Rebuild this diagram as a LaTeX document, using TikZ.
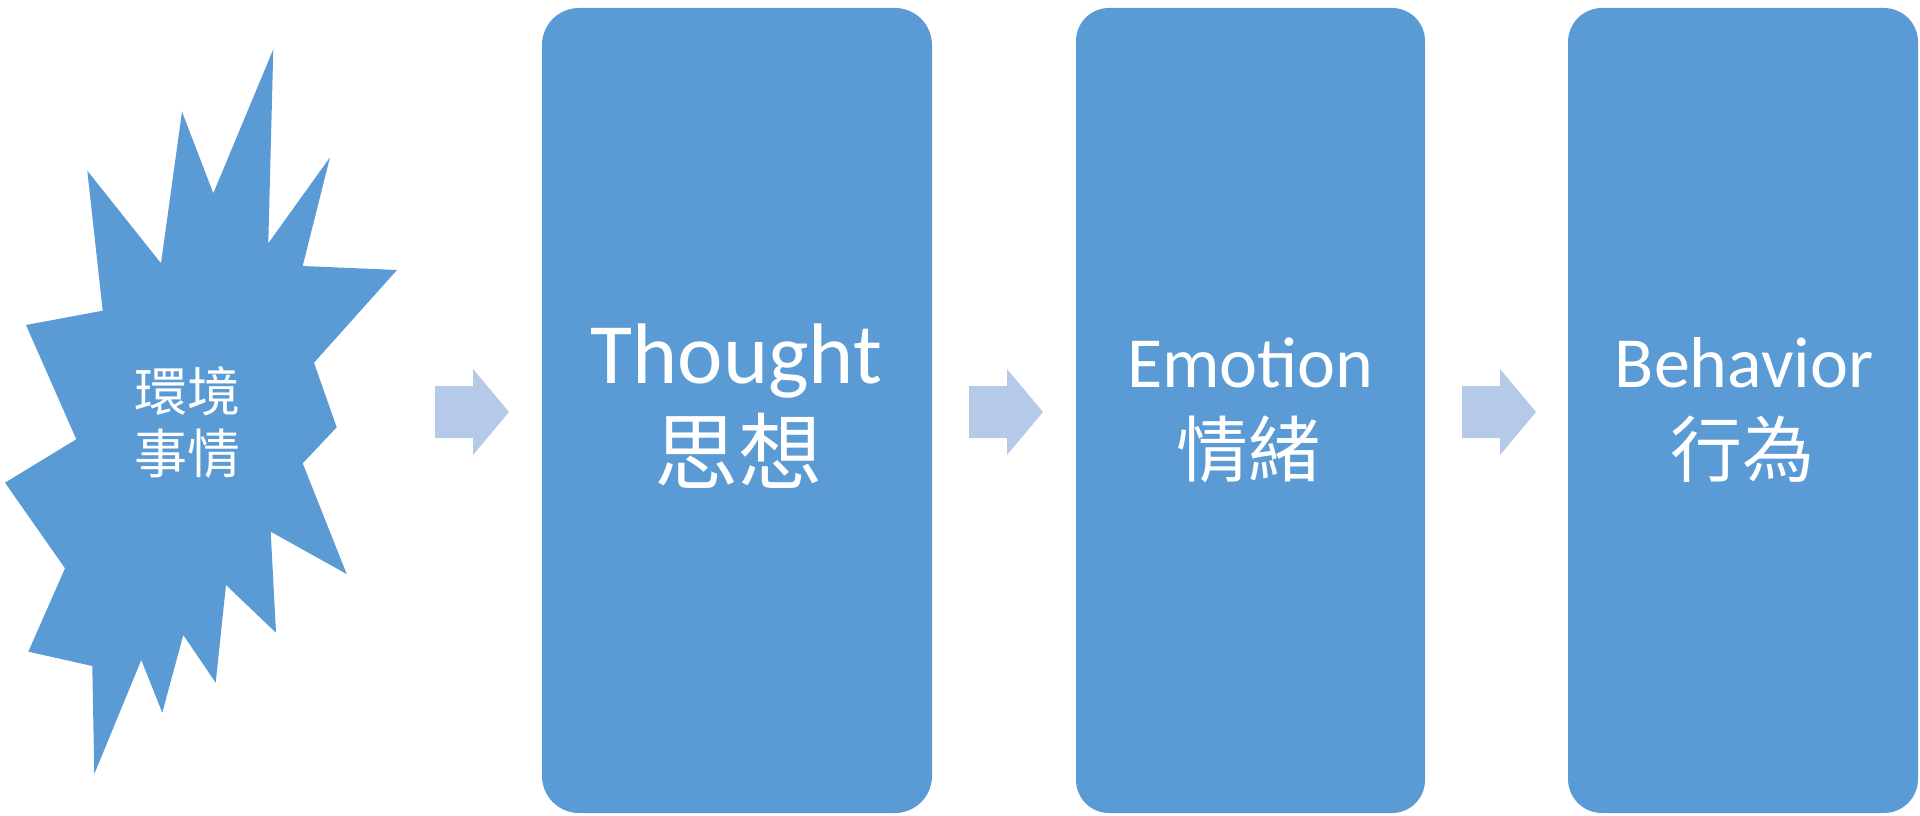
\documentclass[tikz,border=0pt]{standalone}
\usepackage{fontspec}
\setmainfont{Carlito}
\newfontfamily\cjk{Noto Sans CJK TC}
\definecolor{boxblue}{HTML}{5B9BD5}
\definecolor{arrowblue}{HTML}{B5C9E8}
\begin{document}
\begin{tikzpicture}[x=1pt,y=-1pt,
  stepbox/.style={fill=boxblue, draw=none, inner sep=0pt, minimum height=805pt},
  arrowshape/.style={fill=arrowblue, draw=none},
  latin/.style={text=white, inner sep=0pt, anchor=base},
  hanzi/.style={text=white, inner sep=0pt, anchor=center}]
\useasboundingbox (0,0) rectangle (1920,816);

% burst shape
\fill[boxblue] (273.3,49.3) -- (268.3,243.3) -- (330,157.3) -- (302.7,266)
  -- (397,270) -- (314,362.7) -- (336.7,427.3) -- (302.7,463.3)
  -- (346.7,574) -- (270.7,531.7) -- (276,632.7) -- (226,585)
  -- (215.7,682.7) -- (183.3,635) -- (162.3,712.7) -- (141.3,660)
  -- (94.3,774) -- (92.3,666) -- (28.3,651.7) -- (65,568.3)
  -- (5,482.7) -- (76.3,439.3) -- (26,325) -- (102.7,310.7)
  -- (87.3,170.7) -- (161,263.3) -- (182,111.7) -- (213.3,193.3) -- cycle;
\node[hanzi, align=center, font=\cjk\fontsize{53}{62}\selectfont] (event) at (187,422) {環境\\事情};

% boxes
\node[stepbox, minimum width=390pt, rounded corners=37pt] (b1) at (737,410.5) {};
\node[stepbox, minimum width=349pt, rounded corners=33pt] (b2) at (1250.5,410.5) {};
\node[stepbox, minimum width=350pt, rounded corners=34pt] (b3) at (1743,410.5) {};

% arrows
\foreach \sx/\nm in {435/a1, 969/a2, 1462/a3}{
  \fill[arrowshape] (\sx,386) -- (\sx+38,386) -- (\sx+38,369) -- (\sx+74,412)
    -- (\sx+38,455) -- (\sx+38,438) -- (\sx,438) -- cycle;
}

% texts
\node[latin, font=\fontsize{86}{86}\selectfont] (t1) at (736.5,383) {Thought};
\node[hanzi, font=\cjk\fontsize{84}{84}\selectfont] (c1) at (738,451) {思想};
\node[latin, font=\fontsize{72}{72}\selectfont] (t2) at (1250.5,387) {Emotion};
\node[hanzi, font=\cjk\fontsize{72}{72}\selectfont] (c2) at (1248,449) {情緒};
\node[latin, font=\fontsize{72}{72}\selectfont] (t3) at (1744,387) {Behavior};
\node[hanzi, font=\cjk\fontsize{72}{72}\selectfont] (c3) at (1742.5,449) {行為};
\end{tikzpicture}
\end{document}
